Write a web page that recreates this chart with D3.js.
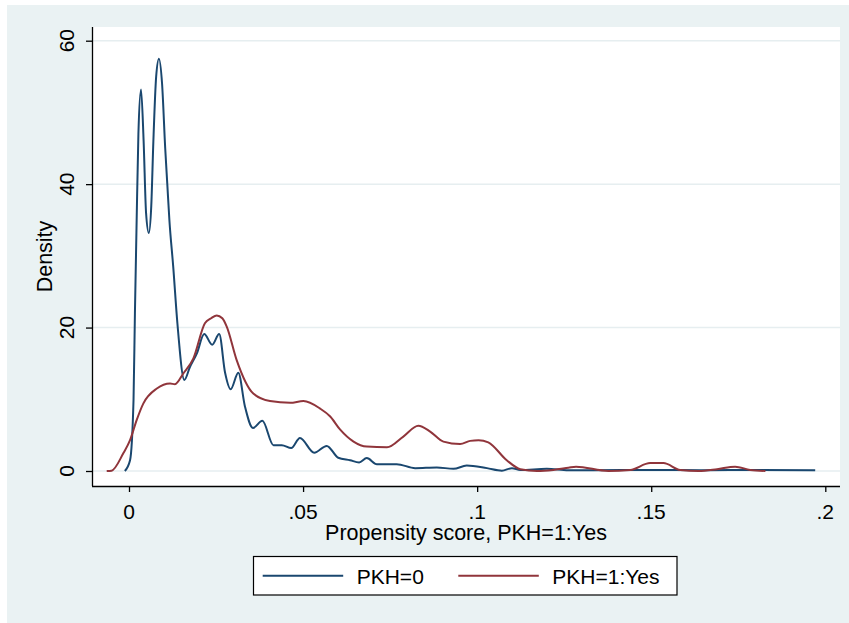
<!DOCTYPE html>
<html>
<head>
<meta charset="utf-8">
<script src="https://cdn.jsdelivr.net/npm/d3@7"></script>
<style>
  body { margin: 0; background: #fff; }
  text { font-family: "Liberation Sans", Arial, sans-serif; fill: #000; }
</style>
</head>
<body>
<div class="chart"></div>
<script>
// kernel density, PKH=0
var score0 = [-0.0012, 0.0003, 0.0013, 0.0017, 0.0022, 0.0027, 0.00345, 0.0042, 0.0049, 0.0057, 0.0064, 0.0070,
  0.0078, 0.0086, 0.0095, 0.0104, 0.0110, 0.0116, 0.0127, 0.0139, 0.0159, 0.0175, 0.0195, 0.0216, 0.0239,
  0.0259, 0.0276, 0.0292, 0.0314, 0.0333, 0.0356, 0.0383, 0.0415, 0.0439, 0.0466, 0.0491, 0.0532, 0.0568,
  0.0601, 0.0635, 0.0661, 0.0683, 0.0712, 0.0769, 0.0822, 0.0884, 0.0932, 0.0970, 0.1028, 0.1071, 0.1100,
  0.1124, 0.1200, 0.1262, 0.1333, 0.1500, 0.1640, 0.1813, 0.1971];
var dens0 = [0, 1.5, 9.9, 22, 35, 47, 53.2, 46, 36, 33.2, 37, 46,
  55, 57.5, 54, 45, 40, 35, 28.5, 20.6, 12.7, 14.5, 16.4, 19.1, 17.6,
  19.1, 13.7, 11.4, 13.7, 9.0, 6.0, 7.0, 3.6, 3.6, 3.2, 4.6, 2.55, 3.5,
  1.85, 1.5, 1.2, 1.8, 0.95, 0.95, 0.4, 0.5, 0.3, 0.75, 0.4, 0.05, 0.4,
  0.15, 0.3, 0.1, 0.1, 0.15, 0.1, 0.15, 0.1];

// kernel density, PKH=1:Yes
var score1 = [-0.0064, -0.005, -0.0016, 0.0003, 0.0022, 0.0041, 0.008, 0.0118, 0.0132, 0.0156, 0.0185,
  0.0218, 0.0236, 0.0252, 0.0268, 0.0281, 0.0309, 0.0357, 0.0405, 0.0463, 0.0501, 0.0549, 0.0578, 0.0606,
  0.0645, 0.0683, 0.0741, 0.0788, 0.0831, 0.0865, 0.0903, 0.0951, 0.098, 0.1004, 0.1032, 0.1085,
  0.1124, 0.1172, 0.1219, 0.1262, 0.1284, 0.1377, 0.144, 0.1497, 0.1535, 0.1583, 0.1636, 0.1689,
  0.1741, 0.1784, 0.1828];
var dens1 = [0, 0.05, 2.5, 4.3, 7.1, 9.4, 11.5, 12.2, 12.1, 13.6, 15.7,
  20.6, 21.3, 21.7, 21.3, 20.1, 15.5, 10.8, 9.75, 9.5, 9.75, 8.7, 7.6, 5.8,
  4.1, 3.4, 3.3, 4.8, 6.3, 5.5, 4.1, 3.75, 4.2, 4.3, 4.0, 1.5,
  0.25, 0, 0.15, 0.45, 0.6, 0, 0.15, 1.1, 1.1, 0.15, 0, 0.25,
  0.6, 0.15, 0];

var xTicks = [0, 0.05, 0.1, 0.15, 0.2];
var xTickLabels = ['0', '.05', '.1', '.15', '.2'];
var yTicks = [0, 20, 40, 60];
var legendLabels = ['PKH=0', 'PKH=1:Yes'];
var colors = ['#1a476f', '#90353b'];

var W = 849, H = 623;
var plotL = 92, plotR = 840, plotT = 27, plotB = 486;

var svg = d3.select('.chart').append('svg')
  .attr('width', W)
  .attr('height', H);

svg.append('rect').attr('x', 7).attr('y', 5).attr('width', W - 7).attr('height', H - 5).attr('fill', '#eaf2f3');
svg.append('rect').attr('x', plotL).attr('y', plotT).attr('width', plotR - plotL).attr('height', plotB - plotT).attr('fill', '#fff');

var x = d3.scaleLinear().domain([0, 0.2]).range([129, 825.3]);
var y = d3.scaleLinear().domain([0, 60]).range([471, 40.7]);

// gridlines
svg.selectAll('line.grid')
  .data(yTicks)
  .enter().append('line')
    .attr('class', 'grid')
    .attr('x1', plotL).attr('x2', plotR)
    .attr('y1', function(d){ return y(d); })
    .attr('y2', function(d){ return y(d); })
    .attr('stroke', '#e6eef0')
    .attr('stroke-width', 1.5);

// y axis
var yAxis = svg.append('g')
  .attr('transform', 'translate(' + plotL + ',0)')
  .call(d3.axisLeft(y).tickValues(yTicks).tickSize(6).tickFormat(''));
yAxis.select('.domain').attr('d', 'M0.5,' + plotT + 'V' + plotB);
yAxis.selectAll('line, path').attr('stroke', '#000').attr('stroke-width', 1.3);

svg.selectAll('text.ylab')
  .data(yTicks)
  .enter().append('text')
    .attr('class', 'ylab')
    .attr('transform', function(d){ return 'translate(74,' + y(d) + ') rotate(-90)'; })
    .attr('text-anchor', 'middle')
    .style('font-size', '21px')
    .text(function(d){ return d; });

// x axis
var xAxis = svg.append('g')
  .attr('transform', 'translate(0,' + plotB + ')')
  .call(d3.axisBottom(x).tickValues(xTicks).tickSize(6).tickFormat(''));
xAxis.select('.domain').attr('d', 'M' + plotL + ',0.5H' + plotR);
xAxis.selectAll('line, path').attr('stroke', '#000').attr('stroke-width', 1.3);

svg.selectAll('text.xlab')
  .data(xTicks)
  .enter().append('text')
    .attr('class', 'xlab')
    .attr('x', function(d){ return x(d); })
    .attr('y', 518.5)
    .attr('text-anchor', 'middle')
    .style('font-size', '21px')
    .text(function(d,i){ return xTickLabels[i]; });

svg.append('text')
  .attr('x', (plotL + plotR) / 2).attr('y', 540)
  .attr('text-anchor', 'middle')
  .style('font-size', '21.5px')
  .text('Propensity score, PKH=1:Yes');

svg.append('text')
  .attr('transform', 'translate(51.5,' + (plotT + plotB) / 2 + ') rotate(-90)')
  .attr('text-anchor', 'middle')
  .style('font-size', '21.5px')
  .text('Density');

// density lines
var line = d3.line()
  .x(function(d){ return x(d[0]); })
  .y(function(d){ return y(d[1]); })
  .curve(d3.curveMonotoneX);

var series = [d3.zip(score0, dens0), d3.zip(score1, dens1)];

svg.selectAll('path.dens')
  .data(series)
  .enter().append('path')
    .attr('class', 'dens')
    .attr('d', line)
    .attr('fill', 'none')
    .attr('stroke', function(d,i){ return colors[i]; })
    .attr('stroke-width', 2);

// legend
var leg = svg.append('g');
leg.append('rect')
  .attr('x', 253.5).attr('y', 556.5).attr('width', 423.5).attr('height', 38.5)
  .attr('fill', '#fff').attr('stroke', '#000').attr('stroke-width', 1.2);

var legX = [262.7, 458.3];
var legTextX = [356.7, 552.3];
legendLabels.forEach(function(lab, i){
  leg.append('line')
    .attr('x1', legX[i]).attr('x2', legX[i] + 80.5)
    .attr('y1', 575.7).attr('y2', 575.7)
    .attr('stroke', colors[i]).attr('stroke-width', 2);
  leg.append('text')
    .attr('x', legTextX[i]).attr('y', 584)
    .style('font-size', '21px')
    .text(lab);
});
</script>
</body>
</html>
